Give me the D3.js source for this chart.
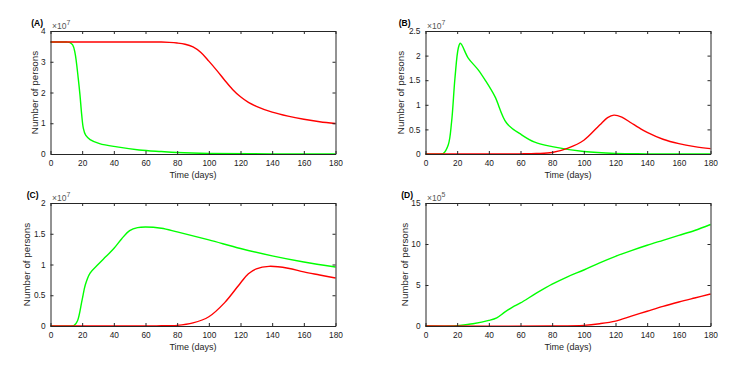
<!DOCTYPE html>
<html>
<head>
<meta charset="utf-8">
<script src="https://cdn.jsdelivr.net/npm/d3@7"></script>
<style>
  body { margin: 0; background: #fff; }
  svg { display: block; font-family: "Liberation Sans", Arial, sans-serif; }
  .axis path, .axis line { stroke: #262626; }
  .axis text { fill: #1a1a1a; font-size: 8.3px; }
</style>
</head>
<body>
<svg id="chart" width="743" height="368"></svg>
<script>
// x ticks shared by all panels
const xTicks = [0, 20, 40, 60, 80, 100, 120, 140, 160, 180];

// panel (A)  values in units of 1e7
const aRedT   = [0, 20, 40, 60, 70, 75, 80, 85, 90, 95, 100, 105, 110, 115, 120, 125, 130, 140, 150, 160, 170, 180];
const aRedV   = [3.64, 3.64, 3.64, 3.64, 3.64, 3.63, 3.61, 3.57, 3.48, 3.3, 3.02, 2.72, 2.4, 2.1, 1.86, 1.68, 1.55, 1.36, 1.23, 1.13, 1.05, 0.99];
const aGreenT = [0, 10, 12, 14, 15.5, 17.5, 18.6, 19.7, 20.7, 22.2, 25, 31, 42, 56, 70, 80, 100, 140, 180];
const aGreenV = [3.64, 3.64, 3.63, 3.55, 3.28, 2.47, 1.93, 1.28, 0.85, 0.61, 0.47, 0.34, 0.23, 0.13, 0.08, 0.05, 0.02, 0.005, 0.0];

// panel (B)  values in units of 1e7
const bGreenT = [0, 10, 11.2, 14.4, 16.5, 18.6, 20.7, 22, 27, 33.3, 37.5, 43.8, 51.2, 60.7, 69, 80, 100, 120, 140, 180];
const bGreenV = [0, 0, 0.01, 0.19, 0.66, 1.54, 2.15, 2.25, 1.95, 1.71, 1.51, 1.17, 0.63, 0.39, 0.24, 0.15, 0.05, 0.01, 0.003, 0];
const bRedT   = [0, 50, 60, 70, 80, 90, 100, 110, 115, 119, 124, 130, 135, 140, 150, 160, 170, 180];
const bRedV   = [0, 0, 0.003, 0.01, 0.03, 0.12, 0.28, 0.59, 0.74, 0.79, 0.75, 0.63, 0.53, 0.44, 0.3, 0.21, 0.15, 0.11];

// panel (C)  values in units of 1e7
const cGreenT = [0, 14, 15, 17, 20, 22, 25, 30, 35, 40, 45, 50, 55, 60, 70, 80, 100, 120, 140, 160, 180];
const cGreenV = [0, 0, 0.01, 0.08, 0.43, 0.67, 0.86, 1.0, 1.13, 1.26, 1.42, 1.55, 1.6, 1.61, 1.59, 1.53, 1.4, 1.26, 1.14, 1.04, 0.96];
const cRedT   = [0, 60, 70, 80, 90, 100, 110, 120, 125, 130, 138, 150, 160, 170, 180];
const cRedV   = [0, 0, 0.003, 0.01, 0.05, 0.15, 0.38, 0.7, 0.85, 0.93, 0.97, 0.94, 0.88, 0.83, 0.78];

// panel (D)  values in units of 1e5
const dGreenT = [0, 18, 20, 30, 40, 45, 50, 55, 60, 70, 80, 90, 100, 110, 120, 130, 140, 150, 160, 170, 180];
const dGreenV = [0, 0, 0.04, 0.28, 0.68, 1.0, 1.69, 2.3, 2.81, 4.0, 5.1, 6.03, 6.83, 7.7, 8.5, 9.2, 9.85, 10.45, 11.05, 11.65, 12.38];
const dRedT   = [0, 80, 100, 110, 120, 130, 140, 150, 160, 170, 180];
const dRedV   = [0, 0, 0.08, 0.28, 0.6, 1.2, 1.8, 2.4, 2.93, 3.42, 3.9];

const panels = [
  { tag: "(A)", exp: 7, yMax: 4,   yTicks: [0, 1, 2, 3, 4],
    box: [50.5, 31, 335.5, 154], tagX: 43, labelOff: 15,
    series: [[aGreenT, aGreenV, "#00ff00"], [aRedT, aRedV, "#ff0000"]] },
  { tag: "(B)", exp: 7, yMax: 2.5, yTicks: [0, 0.5, 1, 1.5, 2, 2.5],
    box: [425.5, 31, 710.5, 154], tagX: 410.5, labelOff: 24,
    series: [[bGreenT, bGreenV, "#00ff00"], [bRedT, bRedV, "#ff0000"]] },
  { tag: "(C)", exp: 7, yMax: 2,   yTicks: [0, 0.5, 1, 1.5, 2],
    box: [50.5, 203, 335.5, 326], tagX: 38.5, labelOff: 23.5,
    series: [[cGreenT, cGreenV, "#00ff00"], [cRedT, cRedV, "#ff0000"]] },
  { tag: "(D)", exp: 5, yMax: 15,  yTicks: [0, 5, 10, 15],
    box: [425.5, 203, 710.5, 326], tagX: 413, labelOff: 20.5,
    series: [[dGreenT, dGreenV, "#00ff00"], [dRedT, dRedV, "#ff0000"]] }
];

const svg = d3.select("#chart");
const tick = 3;

panels.forEach(p => {
  const [x0, y0, x1, y1] = p.box;
  const x = d3.scaleLinear().domain([0, 180]).range([x0, x1]);
  const y = d3.scaleLinear().domain([0, p.yMax]).range([y1, y0]);
  const g = svg.append("g");

  // curves
  const line = (t) => d3.line()
    .x((d, i) => x(t[i]))
    .y(d => Math.min(y(d), y1))
    .curve(d3.curveCatmullRom.alpha(0.5));
  p.series.forEach(([t, v, col]) => {
    g.append("path")
      .attr("d", line(t)(v))
      .attr("fill", "none")
      .attr("stroke", col)
      .attr("stroke-width", 1.4);
  });

  // axes, ticks pointing inward, MATLAB style box
  g.append("g").attr("class", "axis")
    .attr("transform", `translate(0,${y1})`)
    .call(d3.axisBottom(x).tickValues(xTicks).tickSizeInner(-tick).tickSizeOuter(0).tickPadding(6));
  g.append("g").attr("class", "axis")
    .attr("transform", `translate(0,${y0})`)
    .call(d3.axisTop(x).tickValues(xTicks).tickSizeInner(-tick).tickSizeOuter(0).tickFormat(""));
  g.append("g").attr("class", "axis")
    .attr("transform", `translate(${x0},0)`)
    .call(d3.axisLeft(y).tickValues(p.yTicks).tickSizeInner(-tick).tickSizeOuter(0).tickPadding(5).tickFormat(d3.format("~g")));
  g.append("g").attr("class", "axis")
    .attr("transform", `translate(${x1},0)`)
    .call(d3.axisRight(y).tickValues(p.yTicks).tickSizeInner(-tick).tickSizeOuter(0).tickFormat(""));
  g.selectAll(".axis .domain").attr("stroke-width", 1);

  // axis titles
  g.append("text")
    .attr("x", (x0 + x1) / 2).attr("y", y1 + 24)
    .attr("text-anchor", "middle")
    .attr("font-size", 9).attr("fill", "#262626")
    .text("Time (days)");
  g.append("text")
    .attr("transform", `translate(${x0 - p.labelOff},${(y0 + y1) / 2}) rotate(-90)`)
    .attr("text-anchor", "middle")
    .attr("dominant-baseline", "middle")
    .attr("font-size", 9.8).attr("fill", "#262626")
    .text("Number of persons");

  // exponent label
  const ex = g.append("text")
    .attr("x", x0 + 1.5).attr("y", y0 - 2.5)
    .attr("font-size", 8.5).attr("fill", "#555");
  ex.append("tspan").text("\u00d710");
  ex.append("tspan").attr("dy", -4).attr("font-size", 7).text(p.exp);

  // panel tag
  g.append("text")
    .attr("x", p.tagX).attr("y", y0 - 5)
    .attr("text-anchor", "end")
    .attr("font-size", 8.5).attr("font-weight", "bold").attr("fill", "#000")
    .text(p.tag);
});
</script>
</body>
</html>
